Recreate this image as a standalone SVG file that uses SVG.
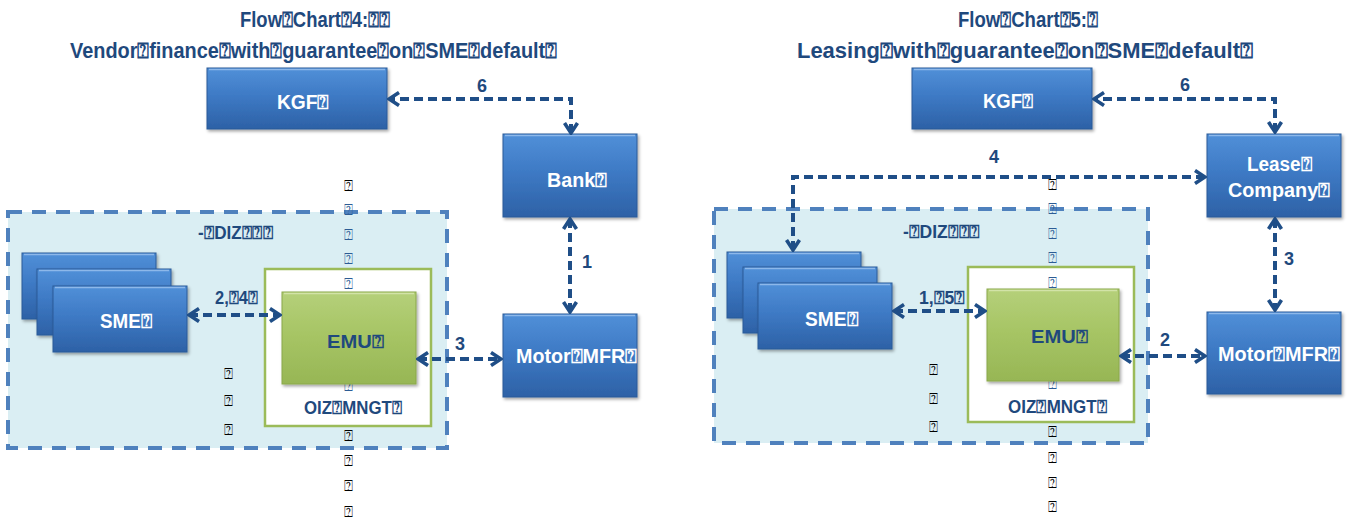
<svg xmlns="http://www.w3.org/2000/svg" width="1351" height="519" viewBox="0 0 1351 519">
  <defs>
    <linearGradient id="gBlue" x1="0" y1="0" x2="0" y2="1">
      <stop offset="0" stop-color="#5190D8"/>
      <stop offset="0.45" stop-color="#3E7AC5"/>
      <stop offset="1" stop-color="#2D61A6"/>
    </linearGradient>
    <linearGradient id="gGreen" x1="0" y1="0" x2="0" y2="1">
      <stop offset="0" stop-color="#B5D07A"/>
      <stop offset="0.45" stop-color="#A7C565"/>
      <stop offset="1" stop-color="#97B655"/>
    </linearGradient>
    <filter id="shadow" x="-10%" y="-10%" width="125%" height="130%">
      <feDropShadow dx="1.5" dy="2" stdDeviation="1.5" flood-color="#000" flood-opacity="0.35"/>
    </filter>
    <marker id="chev" viewBox="0 0 14 16" refX="12" refY="8" markerWidth="14" markerHeight="16" markerUnits="userSpaceOnUse" orient="auto-start-reverse">
      <path d="M2,1.5 L12,8 L2,14.5" fill="none" stroke="#1F4E87" stroke-width="3.6"/>
    </marker>
  </defs>
  <style>
    .title { font-family: "Liberation Sans", Arial, sans-serif; font-weight: bold; font-size: 22px; fill: #1F497D; }
    .wlab { font-family: "Liberation Sans", Arial, sans-serif; font-weight: bold; font-size: 20px; fill: #FFFFFF; }
    .dlab { font-family: "Liberation Sans", Arial, sans-serif; font-weight: bold; font-size: 18px; fill: #1F497D; }
    .num { font-family: "Liberation Sans", Arial, sans-serif; font-weight: bold; font-size: 18px; fill: #1F497D; }
    .tofu { font-family: "DejaVu Sans", sans-serif; font-size: 15px; fill: #000; text-anchor: middle; }
    .tofu.in { fill: #2D5C95; }
    .box { fill: url(#gBlue); stroke: #2A5A98; stroke-width: 1; filter: url(#shadow); }
    .emu { fill: url(#gGreen); stroke: #8AA84A; stroke-width: 1; filter: url(#shadow); }
    .hl { fill: none; stroke: #8DB8EA; stroke-width: 1.5; }
    .hlg { fill: none; stroke: #D2E3A8; stroke-width: 1.5; }
    .region { fill: #DAEEF3; stroke: #4F81BD; stroke-width: 4; stroke-dasharray: 14 10; }
    .frame { fill: #FFFFFF; stroke: #9BBB59; stroke-width: 2.5; }
    .conn { fill: none; stroke: #1F4E87; stroke-width: 4; stroke-dasharray: 9 5; marker-start: url(#chev); marker-end: url(#chev); }
  </style>

  <!-- ===== Flow chart 4 ===== -->
  <g id="title4">
    <text class="title" x="240" y="27" textLength="150" lengthAdjust="spacingAndGlyphs">Flow⍰Chart⍰4:⍰⍰</text>
    <text class="title" x="70" y="58" textLength="487" lengthAdjust="spacingAndGlyphs">Vendor⍰finance⍰with⍰guarantee⍰on⍰SME⍰default⍰</text>
  </g>

  <g id="zone4">
    <rect class="region" x="8" y="212" width="439" height="236"/>
    <text class="dlab" x="198" y="239" textLength="75" lengthAdjust="spacingAndGlyphs">-⍰DIZ⍰⍰⍰</text>
  </g>

  <g id="kgf4">
    <rect class="box" x="207" y="68" width="180" height="61"/>
    <line class="hl" x1="209" y1="69.5" x2="385" y2="69.5"/>
    <text class="wlab" x="277" y="109" textLength="52" lengthAdjust="spacingAndGlyphs">KGF⍰</text>
  </g>

  <g id="bank4">
    <rect class="box" x="503" y="134" width="134" height="83"/>
    <line class="hl" x1="505" y1="135.5" x2="635" y2="135.5"/>
    <text class="wlab" x="547" y="187" textLength="60" lengthAdjust="spacingAndGlyphs">Bank⍰</text>
  </g>

  <g id="motor4">
    <rect class="box" x="503" y="314" width="134" height="83"/>
    <line class="hl" x1="505" y1="315.5" x2="635" y2="315.5"/>
    <text class="wlab" x="516" y="363" textLength="121" lengthAdjust="spacingAndGlyphs">Motor⍰MFR⍰</text>
  </g>

  <g id="sme4">
    <rect class="box" x="22" y="253" width="134" height="66"/>
    <line class="hl" x1="24" y1="254.5" x2="154" y2="254.5"/>
    <rect class="box" x="37" y="269" width="134" height="66"/>
    <line class="hl" x1="39" y1="270.5" x2="169" y2="270.5"/>
    <rect class="box" x="53" y="286" width="134" height="66"/>
    <line class="hl" x1="55" y1="287.5" x2="185" y2="287.5"/>
    <text class="wlab" x="100" y="328" textLength="52" lengthAdjust="spacingAndGlyphs">SME⍰</text>
  </g>

  <g id="oiz4">
    <rect class="frame" x="265" y="269" width="166" height="157"/>
    <text class="dlab" x="304" y="414" textLength="98" lengthAdjust="spacingAndGlyphs">OIZ⍰MNGT⍰</text>
  </g>

  <g id="tofu4">
    <text class="tofu" x="348" y="191">⍰</text>
    <text class="tofu in" x="348" y="215">⍰</text>
    <text class="tofu in" x="348" y="240">⍰</text>
    <text class="tofu in" x="348" y="264">⍰</text>
    <text class="tofu in" x="348" y="289">⍰</text>
    <text class="tofu in" x="348" y="391">⍰</text>
    <text class="tofu" x="348" y="441">⍰</text>
    <text class="tofu" x="348" y="466">⍰</text>
    <text class="tofu" x="348" y="491">⍰</text>
    <text class="tofu" x="348" y="517">⍰</text>
    <text class="tofu" x="228" y="379">⍰</text>
    <text class="tofu" x="228" y="406">⍰</text>
    <text class="tofu" x="228" y="435">⍰</text>
  </g>

  <g id="emu4">
    <rect class="emu" x="282" y="292" width="134" height="92"/>
    <line class="hlg" x1="284" y1="293.5" x2="414" y2="293.5"/>
    <text class="dlab" x="327" y="348" font-size="21" textLength="57" lengthAdjust="spacingAndGlyphs">EMU⍰</text>
  </g>

  <g id="connectors4">
    <path class="conn" d="M571,133 V99 H389"/>
    <path class="conn" d="M570,219 V312"/>
    <path class="conn" d="M418,359 H501"/>
    <path class="conn" d="M189,315 H280"/>
    <text class="num" x="477" y="92">6</text>
    <text class="num" x="582" y="268">1</text>
    <text class="num" x="455" y="350">3</text>
    <text class="num" x="215" y="304" textLength="43" lengthAdjust="spacingAndGlyphs">2,⍰4⍰</text>
  </g>

  <!-- ===== Flow chart 5 ===== -->
  <g id="title5">
    <text class="title" x="958" y="27" textLength="140" lengthAdjust="spacingAndGlyphs">Flow⍰Chart⍰5:⍰</text>
    <text class="title" x="797" y="58" textLength="456" lengthAdjust="spacingAndGlyphs">Leasing⍰with⍰guarantee⍰on⍰SME⍰default⍰</text>
  </g>

  <g id="zone5">
    <rect class="region" x="714" y="209" width="434" height="234"/>
    <text class="dlab" x="903" y="238" textLength="77" lengthAdjust="spacingAndGlyphs">-⍰DIZ⍰⍰⍰</text>
  </g>

  <g id="kgf5">
    <rect class="box" x="912" y="68" width="180" height="61"/>
    <line class="hl" x1="914" y1="69.5" x2="1090" y2="69.5"/>
    <text class="wlab" x="983" y="108" textLength="50" lengthAdjust="spacingAndGlyphs">KGF⍰</text>
  </g>

  <g id="lease5">
    <rect class="box" x="1207" y="134" width="134" height="83"/>
    <line class="hl" x1="1209" y1="135.5" x2="1339" y2="135.5"/>
    <text class="wlab" x="1247" y="171" textLength="65" lengthAdjust="spacingAndGlyphs">Lease⍰</text>
    <text class="wlab" x="1228" y="197" textLength="102" lengthAdjust="spacingAndGlyphs">Company⍰</text>
  </g>

  <g id="motor5">
    <rect class="box" x="1207" y="312" width="134" height="82"/>
    <line class="hl" x1="1209" y1="313.5" x2="1339" y2="313.5"/>
    <text class="wlab" x="1218" y="361" textLength="122" lengthAdjust="spacingAndGlyphs">Motor⍰MFR⍰</text>
  </g>

  <g id="sme5">
    <rect class="box" x="727" y="252" width="134" height="66"/>
    <line class="hl" x1="729" y1="253.5" x2="859" y2="253.5"/>
    <rect class="box" x="743" y="267" width="134" height="66"/>
    <line class="hl" x1="745" y1="268.5" x2="875" y2="268.5"/>
    <rect class="box" x="758" y="283" width="134" height="66"/>
    <line class="hl" x1="760" y1="284.5" x2="890" y2="284.5"/>
    <text class="wlab" x="805" y="326" textLength="53" lengthAdjust="spacingAndGlyphs">SME⍰</text>
  </g>

  <g id="oiz5">
    <rect class="frame" x="968" y="267" width="166" height="155"/>
    <text class="dlab" x="1008" y="413" textLength="99" lengthAdjust="spacingAndGlyphs">OIZ⍰MNGT⍰</text>
  </g>

  <g id="tofu5">
    <text class="tofu" x="1052" y="190">⍰</text>
    <text class="tofu in" x="1052" y="214">⍰</text>
    <text class="tofu in" x="1052" y="239">⍰</text>
    <text class="tofu in" x="1052" y="263">⍰</text>
    <text class="tofu in" x="1052" y="288">⍰</text>
    <text class="tofu in" x="1052" y="389">⍰</text>
    <text class="tofu" x="1052" y="437">⍰</text>
    <text class="tofu" x="1052" y="463">⍰</text>
    <text class="tofu" x="1052" y="488">⍰</text>
    <text class="tofu" x="1052" y="512">⍰</text>
    <text class="tofu" x="933" y="375">⍰</text>
    <text class="tofu" x="933" y="404">⍰</text>
    <text class="tofu" x="933" y="432">⍰</text>
  </g>

  <g id="emu5">
    <rect class="emu" x="987" y="289" width="132" height="92"/>
    <line class="hlg" x1="989" y1="290.5" x2="1117" y2="290.5"/>
    <text class="dlab" x="1031" y="343" font-size="21" textLength="57" lengthAdjust="spacingAndGlyphs">EMU⍰</text>
  </g>

  <g id="connectors5">
    <path class="conn" d="M1275,132 V99 H1094"/>
    <path class="conn" d="M1205,177 H793 V250"/>
    <path class="conn" d="M1275,219 V310"/>
    <path class="conn" d="M1121,356 H1205"/>
    <path class="conn" d="M894,311 H985"/>
    <text class="num" x="1180" y="91">6</text>
    <text class="num" x="989" y="163">4</text>
    <text class="num" x="1284" y="265">3</text>
    <text class="num" x="1160" y="346">2</text>
    <text class="num" x="919" y="304" textLength="46" lengthAdjust="spacingAndGlyphs">1,⍰5⍰</text>
  </g>
</svg>
